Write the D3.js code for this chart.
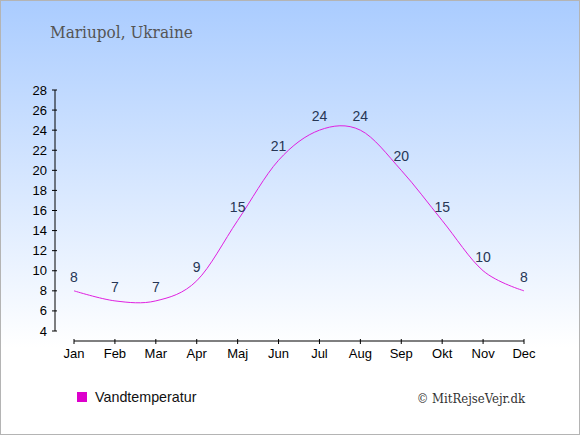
<!DOCTYPE html>
<html><head><meta charset="utf-8">
<script src="https://cdn.jsdelivr.net/npm/d3@7"></script>
<style>html,body{margin:0;padding:0;background:#fff;}svg{display:block;}</style>
</head><body>
<script>
const months = ["Jan","Feb","Mar","Apr","Maj","Jun","Jul","Aug","Sep","Okt","Nov","Dec"];
const waterTemp = [8,7,7,9,15,21,24,24,20,15,10,8];
const yTicks = [4,6,8,10,12,14,16,18,20,22,24,26,28];
const title = "Mariupol, Ukraine";
const seriesName = "Vandtemperatur";
const credit = "© MitRejseVejr.dk";

const W = 580, H = 435;
const svg = d3.select("body").append("svg").attr("width", W).attr("height", H);
const defs = svg.append("defs");
const grad = defs.append("linearGradient").attr("id","bg").attr("x1",0).attr("y1",0).attr("x2",0).attr("y2",1);
grad.append("stop").attr("offset","0%").attr("stop-color","#aaccff");
grad.append("stop").attr("offset","80%").attr("stop-color","#ffffff");
grad.append("stop").attr("offset","100%").attr("stop-color","#ffffff");
svg.append("rect").attr("x",0.5).attr("y",0.5).attr("width",W-1).attr("height",H-1)
  .attr("fill","url(#bg)").attr("stroke","#b4b4b4").attr("stroke-width",1);

svg.append("text").attr("x",50).attr("y",38).text(title)
  .attr("font-family","'DejaVu Serif', serif").attr("font-stretch","condensed")
  .attr("font-size",17).attr("fill","#555");

const x = d3.scalePoint().domain(months).range([74,524]);
const y = d3.scaleLinear().domain([4,28]).range([331,90]);

const gy = svg.append("g").attr("transform","translate(55,0)");
gy.append("line").attr("x1",0).attr("x2",0).attr("y1",y(28)).attr("y2",y(4)).attr("stroke","#000");
gy.selectAll("line.t").data(yTicks).join("line").attr("class","t")
  .attr("x1",-3).attr("x2",2).attr("y1",d=>y(d)).attr("y2",d=>y(d)).attr("stroke","#000");
gy.selectAll("text").data(yTicks).join("text")
  .attr("x",-8).attr("y",d=>y(d)+4.5).attr("text-anchor","end").text(d=>d)
  .attr("font-family","'Liberation Sans', Arial, sans-serif").attr("font-size",13).attr("fill","#000");

const gx = svg.append("g").attr("transform","translate(0,341)");
gx.append("line").attr("x1",x("Jan")).attr("x2",x("Dec")).attr("y1",0).attr("y2",0).attr("stroke","#000");
gx.selectAll("line.t").data(months).join("line").attr("class","t")
  .attr("x1",d=>x(d)).attr("x2",d=>x(d)).attr("y1",-2).attr("y2",3).attr("stroke","#000");
gx.selectAll("text").data(months).join("text")
  .attr("x",d=>x(d)).attr("y",17).attr("text-anchor","middle").text(d=>d)
  .attr("font-family","'Liberation Sans', Arial, sans-serif").attr("font-size",13).attr("fill","#000");

const pts = months.map((m,i)=>[x(m), y(waterTemp[i])]);
svg.append("path").attr("d", d3.line().curve(d3.curveCardinal.tension(0))(pts))
  .attr("fill","none").attr("stroke","#e020e0").attr("stroke-width",1);

svg.selectAll("text.lbl").data(months).join("text").attr("class","lbl")
  .attr("x",d=>x(d)).attr("y",(d,i)=>y(waterTemp[i])-9).attr("text-anchor","middle")
  .text((d,i)=>waterTemp[i])
  .attr("font-family","'Liberation Sans', Arial, sans-serif").attr("font-size",14).attr("fill","#263655");

svg.append("rect").attr("x",77).attr("y",392).attr("width",10).attr("height",10).attr("fill","#dd00cc");
svg.append("text").attr("x",95).attr("y",402).text(seriesName)
  .attr("font-family","'Liberation Sans', Arial, sans-serif").attr("font-size",14.3).attr("fill","#111");
svg.append("text").attr("x",525).attr("y",403).attr("text-anchor","end").text(credit)
  .attr("font-family","'DejaVu Serif', serif").attr("font-stretch","condensed")
  .attr("font-size",13).attr("fill","#333");
</script>
</body></html>
